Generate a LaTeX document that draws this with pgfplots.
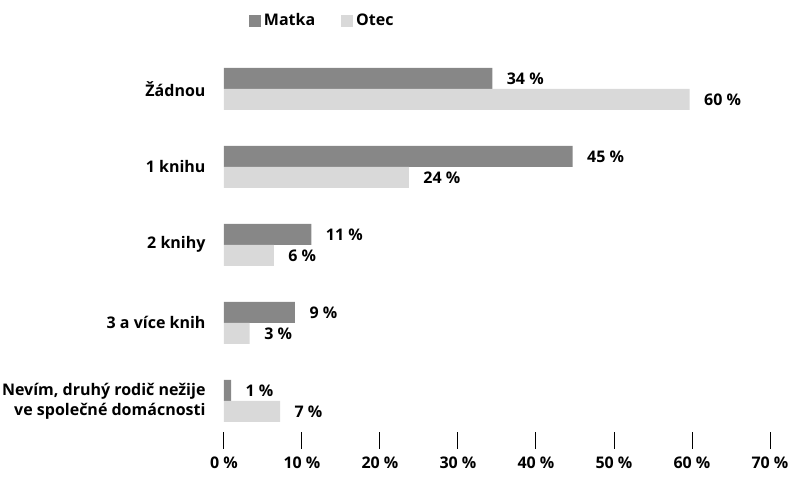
\documentclass[border=0pt]{standalone}
\usepackage{pgfplots}
\pgfplotsset{compat=1.18}
\usepackage{fontspec}
\setmainfont{Open Sans}
\definecolor{dark}{HTML}{878787}
\definecolor{light}{HTML}{D9D9D9}
\newcommand{\lf}{\fontsize{16}{20}\selectfont\bfseries}
\begin{document}
\begin{tikzpicture}
\begin{axis}[
  at={(0,0)}, anchor=south west,
  scale only axis, width=546pt, height=374.4pt,
  xmin=0, xmax=70, ymin=-0.4, ymax=4.4,
  xbar, bar width=21pt,
  axis lines*=left, axis line style={draw=none},
  xtick={0,10,...,70},
  xticklabels={0 \%,10 \%,20 \%,30 \%,40 \%,50 \%,60 \%,70 \%},
  ytick={0,1,2,3,4},
  yticklabels={{Nevím, druhý rodič nežije\\ve společné domácnosti},3 a více knih,2 knihy,1 knihu,Žádnou},
  yticklabel style={align=right, font=\lf, xshift=2pt},
  xticklabel style={font=\lf, yshift=-4pt},
  ytick style={draw=none},
  xtick style={black, line width=1pt},
  tick align=outside, major tick length=17pt,
  point meta=explicit symbolic,
  nodes near coords={\pgfplotspointmeta~\%},
  nodes near coords style={font=\lf, anchor=west, xshift=11pt},
  clip=false,
  legend columns=2,
  legend style={draw=none, fill=none, at={(0.18,1)}, anchor=south, yshift=26pt,
    font=\lf, /tikz/every even column/.append style={column sep=24pt},
    /tikz/every odd column/.append style={column sep=1pt}},
  legend image code/.code={\fill[#1] (0pt,-6pt) rectangle (12pt,6pt);},
]
\addplot[fill=dark, draw=none, bar shift=10.5pt] coordinates {
 (34.4,4) [34] (44.7,3) [45] (11.2,2) [11] (9.1,1) [9] (0.9,0) [1]};
\addlegendentry{Matka}
\addplot[fill=light, draw=none, bar shift=-10.5pt] coordinates {
 (59.7,4) [60] (23.7,3) [24] (6.4,2) [6] (3.3,1) [3] (7.2,0) [7]};
\addlegendentry{Otec}
\end{axis}
\pgfresetboundingbox
\path (-224pt,-46pt) rectangle (566pt,432pt);
\end{tikzpicture}
\end{document}
